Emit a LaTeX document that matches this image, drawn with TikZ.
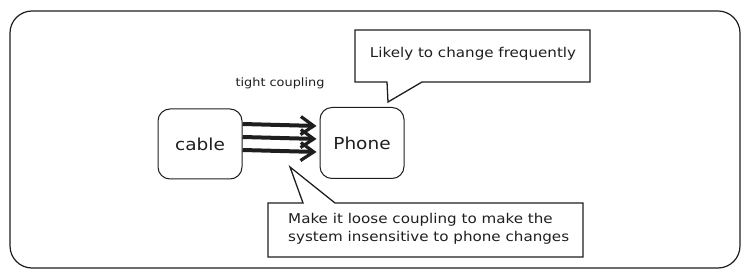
\documentclass[tikz,border=0pt]{standalone}
\usepackage{fontspec}
\setmainfont[FakeStretch=1.12]{DejaVu Sans}
\usetikzlibrary{arrows.meta}
\definecolor{ink}{HTML}{1E1E1E}
\begin{document}
\begin{tikzpicture}[x=1pt,y=-1pt,
  sketch/.style={draw=ink, line width=1pt},
  blockbox/.style={sketch, rounded corners=12pt, minimum width=84pt, minimum height=70pt, inner sep=0pt, text=ink, font=\fontsize{16.5}{20}\selectfont},
  notetext/.style={text=ink, inner sep=0pt, font=\fontsize{13.5}{18}\selectfont},
  couple/.style={draw=ink, line width=4pt, -{Straight Barb[length=13pt,width=18pt,line width=3.2pt]}, shorten >=1pt},
  calloutline/.style={draw=ink, line width=1.3pt, line join=miter}
]
\useasboundingbox (0,0) rectangle (750,280);
% frame
\draw[sketch, line width=1.2pt, rounded corners=22pt] (10,11) rectangle (740,268);
% blocks
\node[blockbox] (cable) at (200,144) {cable};
\node[blockbox, minimum height=71pt] (phone) at (362,143) {Phone};
% label
\node[notetext, font=\fontsize{11.5}{14}\selectfont] (tight) at (280,83) {tight coupling};
% arrows
\draw[couple] ([yshift=20pt]cable.east) -- ([yshift=17pt,xshift=-2pt]phone.west);
\draw[couple] ([yshift=7pt]cable.east) -- ([yshift=4pt,xshift=-2pt]phone.west);
\draw[couple] ([yshift=-6pt]cable.east) -- ([yshift=-9pt,xshift=-2pt]phone.west);
% top callout
\draw[calloutline] (355,30) -- (590,30) -- (590,82) -- (422,82) -- (388,102) -- (387,82) -- (355,82) -- cycle;
\node[notetext] (topnote) at (473,54) {Likely to change frequently};
% bottom callout
\draw[calloutline] (268,203) -- (303,203) -- (290,167) -- (335,203) -- (583,203) -- (583,257) -- (268,257) -- cycle;
\node[notetext, align=left, anchor=west] (botnote) at (288,229) {Make it loose coupling to make the\\system insensitive to phone changes};
\end{tikzpicture}
\end{document}
